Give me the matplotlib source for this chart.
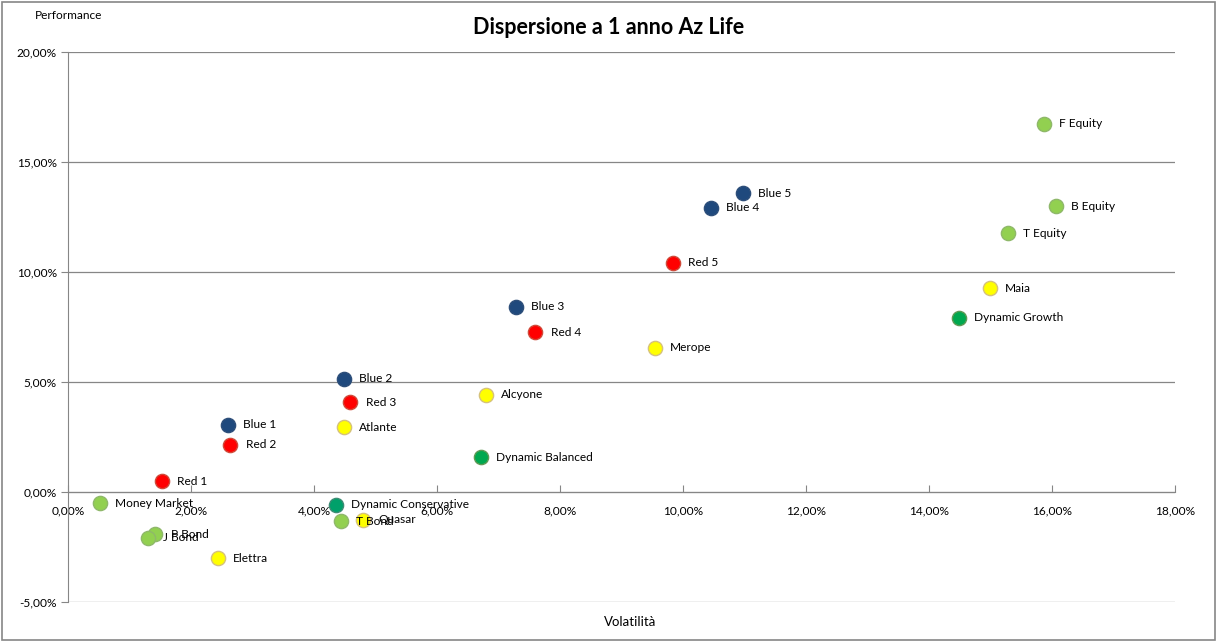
import matplotlib.pyplot as plt
from matplotlib.ticker import FuncFormatter
from matplotlib.patches import Rectangle

plt.rcParams['font.family'] = ['Lato', 'DejaVu Sans']

# Data (volatility %, performance %)
names = ['F Equity', 'B Equity', 'T Equity', 'Maia', 'Dynamic Growth',
         'Blue 5', 'Blue 4', 'Red 5', 'Merope', 'Blue 3', 'Red 4',
         'Alcyone', 'Dynamic Balanced', 'Blue 2', 'Red 3', 'Atlante',
         'Blue 1', 'Red 2', 'Red 1', 'Money Market', 'Dynamic Conservative',
         'T Bond', 'Quasar', 'P Bond', 'J Bond', 'Elettra']
volatility = [15.87, 16.06, 15.28, 14.99, 14.49,
              10.97, 10.45, 9.83, 9.54, 7.28, 7.60,
              6.79, 6.71, 4.49, 4.59, 4.48,
              2.60, 2.64, 1.53, 0.52, 4.35,
              4.44, 4.80, 1.42, 1.30, 2.44]
performance = [16.73, 13.00, 11.77, 9.27, 7.91,
               13.59, 12.91, 10.41, 6.55, 8.41, 7.27,
               4.41, 1.59, 5.14, 4.09, 2.95,
               3.05, 2.14, 0.50, -0.50, -0.59,
               -1.32, -1.27, -1.91, -2.09, -3.00]
groups = ['green', 'green', 'green', 'yellow', 'dgreen',
          'blue', 'blue', 'red', 'yellow', 'blue', 'red',
          'yellow', 'dgreen', 'blue', 'red', 'yellow',
          'blue', 'red', 'red', 'green', 'teal',
          'green', 'yellow', 'green', 'green', 'yellow']

face = {'green': '#92D050', 'yellow': '#FFFF00', 'dgreen': '#00A84F',
        'teal': '#00A06A', 'blue': '#1F497D', 'red': '#FF0000'}
edge = {'green': '#8FB86A', 'yellow': '#D6C27A', 'dgreen': '#5E9A55',
        'teal': '#3C8C74', 'blue': '#2E4F7A', 'red': '#D04A3A'}

fig = plt.figure(figsize=(12.17, 6.42), dpi=100)
ax = fig.add_axes([0.0559, 0.0623, 0.9096, 0.8567])

for n, x, y, g in zip(names, volatility, performance, groups):
    ax.scatter(x, y, s=105, color=face[g], edgecolor=edge[g], linewidth=1.0, zorder=3)
    ax.annotate(n, (x, y), xytext=(11, 0), textcoords='offset points',
                va='center', ha='left', fontsize=8.6, zorder=4)

ax.set_xlim(0, 18)
ax.set_ylim(-5, 20)
ax.set_xticks(range(0, 19, 2))
ax.set_yticks(range(-5, 21, 5))
pct = FuncFormatter(lambda v, p: ('%.2f%%' % v).replace('.', ','))
ax.xaxis.set_major_formatter(pct)
ax.yaxis.set_major_formatter(pct)

ax.grid(axis='y', color='#868686', linewidth=0.9, zorder=0)
ax.set_axisbelow(True)
for s in ['top', 'right']:
    ax.spines[s].set_visible(False)
ax.spines['left'].set_color('#868686')
ax.spines['bottom'].set_position(('data', 0))
ax.spines['bottom'].set_color('#868686')
ax.tick_params(axis='y', length=5, color='#868686', labelsize=8.6, pad=3)
ax.tick_params(axis='x', direction='in', length=5, color='#868686', labelsize=8.6, pad=10)

fig.text(0.5, 0.957, 'Dispersione a 1 anno Az Life', ha='center', va='center',
         fontsize=15.5, fontweight='bold')
fig.text(0.029, 0.976, 'Performance', ha='left', va='center', fontsize=8.6)
fig.text(0.518, 0.031, 'Volatilità', ha='center', va='center', fontsize=9.5)

fig.patches.append(Rectangle((0.002, 0.003), 0.996, 0.994, transform=fig.transFigure,
                             fill=False, edgecolor='#868686', linewidth=1.2))

fig.savefig('out.png', dpi=100)
